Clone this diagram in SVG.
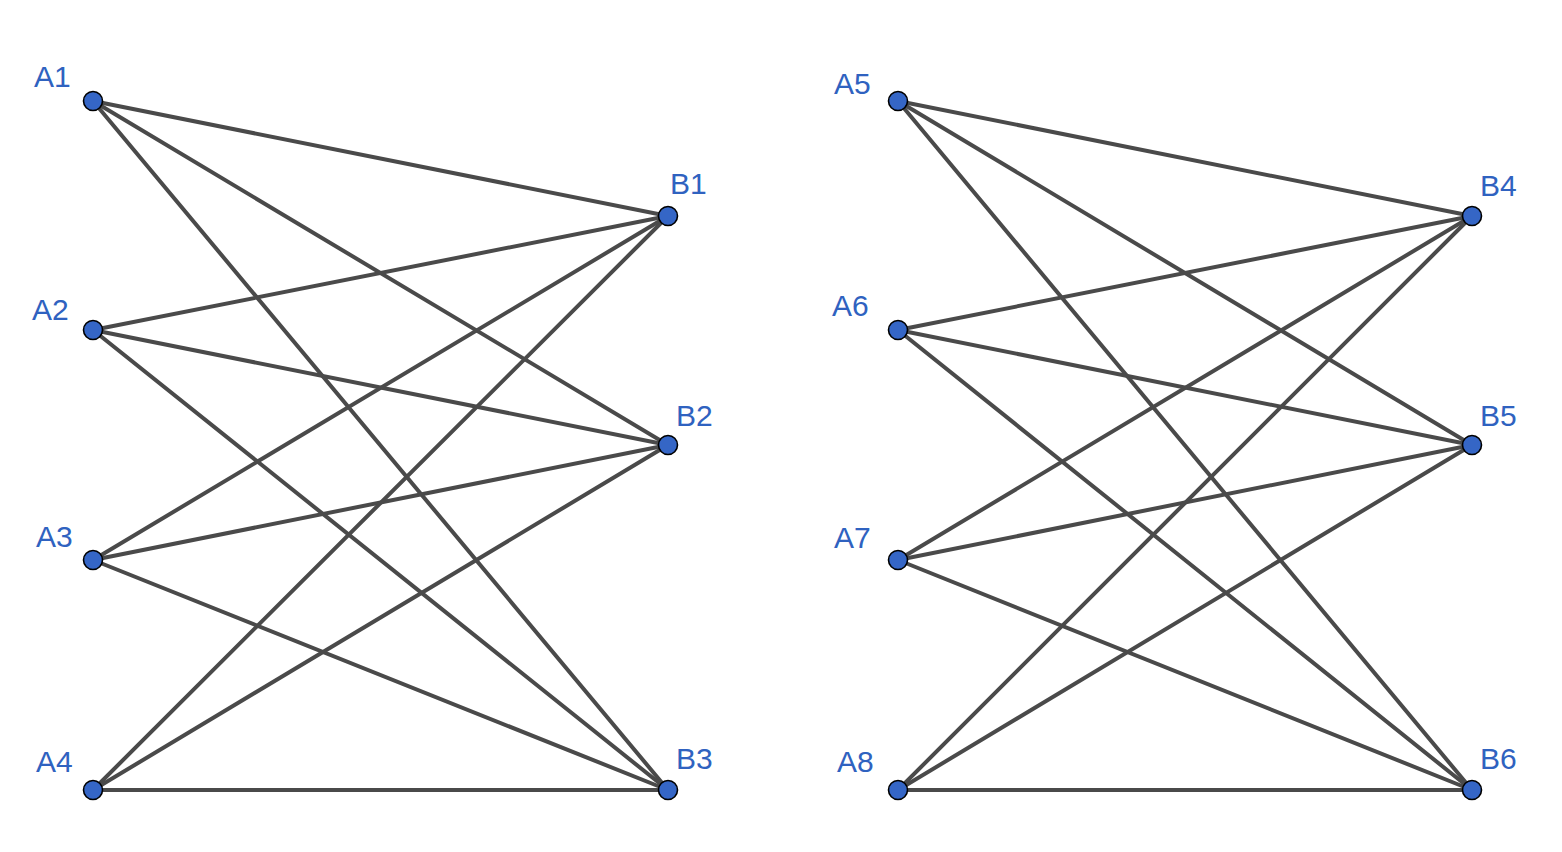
<svg xmlns="http://www.w3.org/2000/svg" width="1562" height="852" viewBox="0 0 1562 852">
<style>
.e{stroke:#4a4a4a;stroke-width:4;stroke-linecap:round;fill:none}
.n{fill:#3566c6;stroke:#000;stroke-width:1.6}
.t{font-family:"Liberation Sans",Arial,sans-serif;font-size:30px;fill:#2f62c0}
</style>
<rect width="1562" height="852" fill="#fff"/>
<g id="connectors">
<line class="e" x1="93" y1="101" x2="668" y2="216"/>
<line class="e" x1="93" y1="101" x2="668" y2="445"/>
<line class="e" x1="93" y1="101" x2="668" y2="790"/>
<line class="e" x1="93" y1="330" x2="668" y2="216"/>
<line class="e" x1="93" y1="330" x2="668" y2="445"/>
<line class="e" x1="93" y1="330" x2="668" y2="790"/>
<line class="e" x1="93" y1="560" x2="668" y2="216"/>
<line class="e" x1="93" y1="560" x2="668" y2="445"/>
<line class="e" x1="93" y1="560" x2="668" y2="790"/>
<line class="e" x1="93" y1="790" x2="668" y2="216"/>
<line class="e" x1="93" y1="790" x2="668" y2="445"/>
<line class="e" x1="93" y1="790" x2="668" y2="790"/>
<line class="e" x1="898" y1="101" x2="1472" y2="216"/>
<line class="e" x1="898" y1="101" x2="1472" y2="445"/>
<line class="e" x1="898" y1="101" x2="1472" y2="790"/>
<line class="e" x1="898" y1="330" x2="1472" y2="216"/>
<line class="e" x1="898" y1="330" x2="1472" y2="445"/>
<line class="e" x1="898" y1="330" x2="1472" y2="790"/>
<line class="e" x1="898" y1="560" x2="1472" y2="216"/>
<line class="e" x1="898" y1="560" x2="1472" y2="445"/>
<line class="e" x1="898" y1="560" x2="1472" y2="790"/>
<line class="e" x1="898" y1="790" x2="1472" y2="216"/>
<line class="e" x1="898" y1="790" x2="1472" y2="445"/>
<line class="e" x1="898" y1="790" x2="1472" y2="790"/>
</g>
<g id="A1"><circle class="n" cx="93" cy="101" r="9.5"/><text class="t" x="34" y="87">A1</text></g>
<g id="A2"><circle class="n" cx="93" cy="330" r="9.5"/><text class="t" x="32" y="320">A2</text></g>
<g id="A3"><circle class="n" cx="93" cy="560" r="9.5"/><text class="t" x="36" y="547">A3</text></g>
<g id="A4"><circle class="n" cx="93" cy="790" r="9.5"/><text class="t" x="36" y="772">A4</text></g>
<g id="B1"><circle class="n" cx="668" cy="216" r="9.5"/><text class="t" x="670" y="194">B1</text></g>
<g id="B2"><circle class="n" cx="668" cy="445" r="9.5"/><text class="t" x="676" y="426">B2</text></g>
<g id="B3"><circle class="n" cx="668" cy="790" r="9.5"/><text class="t" x="676" y="769">B3</text></g>
<g id="A5"><circle class="n" cx="898" cy="101" r="9.5"/><text class="t" x="834" y="94">A5</text></g>
<g id="A6"><circle class="n" cx="898" cy="330" r="9.5"/><text class="t" x="832" y="316">A6</text></g>
<g id="A7"><circle class="n" cx="898" cy="560" r="9.5"/><text class="t" x="834" y="548">A7</text></g>
<g id="A8"><circle class="n" cx="898" cy="790" r="9.5"/><text class="t" x="837" y="772">A8</text></g>
<g id="B4"><circle class="n" cx="1472" cy="216" r="9.5"/><text class="t" x="1480" y="196">B4</text></g>
<g id="B5"><circle class="n" cx="1472" cy="445" r="9.5"/><text class="t" x="1480" y="426">B5</text></g>
<g id="B6"><circle class="n" cx="1472" cy="790" r="9.5"/><text class="t" x="1480" y="769">B6</text></g>
</svg>
